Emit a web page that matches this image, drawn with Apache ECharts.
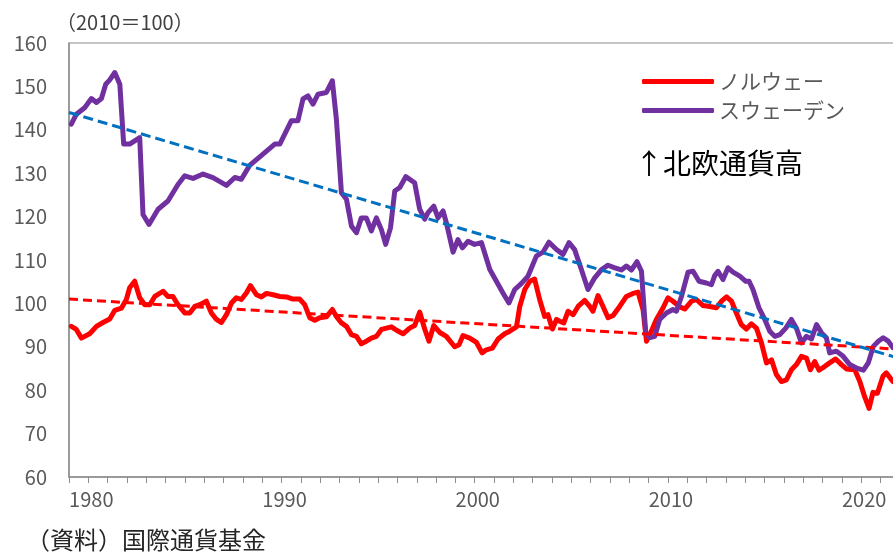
<!DOCTYPE html>
<html><head><meta charset="utf-8">
<script src="https://cdn.jsdelivr.net/npm/echarts@6/dist/echarts.min.js"></script>
<style>html,body{margin:0;padding:0;background:#fff}#c{width:893px;height:556px}</style>
</head><body><div id="c"></div>
<script>
const seriesNames = ['ノルウェー', 'スウェーデン'];
const norway = [
[1979.12,94.7],[1979.38,94.0],[1979.64,92.0],[1980.07,93.0],[1980.42,94.7],[1980.76,95.6],[1981.11,96.4],[1981.37,98.4],[1981.71,98.9],[1981.97,100.9],
[1982.14,103.6],[1982.40,105.1],[1982.66,101.3],[1982.92,99.7],[1983.18,99.7],[1983.44,101.6],[1983.87,102.8],[1984.12,101.6],[1984.38,101.6],[1984.64,99.7],
[1984.99,97.8],[1985.25,97.8],[1985.51,99.3],[1985.77,99.7],[1986.11,100.5],[1986.37,97.8],[1986.63,96.3],[1986.89,95.6],[1987.15,97.4],[1987.41,100.1],
[1987.66,101.3],[1987.92,100.9],[1988.18,102.4],[1988.39,104.1],[1988.70,102.0],[1988.96,101.5],[1989.22,102.3],[1989.56,102.0],[1989.91,101.6],[1990.25,101.5],
[1990.59,101.0],[1990.94,101.0],[1991.20,99.7],[1991.46,96.7],[1991.72,96.1],[1991.98,96.7],[1992.32,96.9],[1992.63,98.6],[1992.84,97.0],[1993.10,95.5],
[1993.36,94.7],[1993.62,92.8],[1993.88,92.4],[1994.13,90.7],[1994.39,91.3],[1994.65,92.0],[1994.91,92.4],[1995.17,94.0],[1995.43,94.3],[1995.69,94.6],
[1995.95,93.8],[1996.29,93.0],[1996.63,94.3],[1996.89,94.9],[1997.15,98.0],[1997.41,94.1],[1997.63,91.3],[1997.88,94.9],[1998.19,93.3],[1998.53,92.4],
[1998.96,90.0],[1999.19,90.5],[1999.39,92.6],[1999.74,92.0],[2000.09,91.0],[2000.38,88.6],[2000.60,89.3],[2000.91,89.7],[2001.21,91.8],[2001.55,93.0],
[2001.81,93.6],[2002.16,94.6],[2002.33,99.3],[2002.59,103.2],[2002.85,105.1],[2003.10,105.6],[2003.36,100.9],[2003.62,97.0],[2003.79,97.4],[2004.02,94.1],
[2004.23,96.3],[2004.40,95.9],[2004.61,95.5],[2004.83,98.2],[2005.09,97.4],[2005.35,99.3],[2005.69,100.7],[2005.95,99.3],[2006.12,98.2],[2006.38,101.8],
[2006.64,99.3],[2006.90,96.7],[2007.16,97.2],[2007.50,99.3],[2007.85,101.6],[2008.19,102.3],[2008.45,102.6],[2008.71,98.6],[2008.89,91.3],[2009.14,93.6],
[2009.40,96.3],[2009.75,99.0],[2010.00,101.3],[2010.26,100.5],[2010.61,99.2],[2010.87,98.7],[2011.22,100.5],[2011.47,100.9],[2011.82,99.5],[2012.16,99.3],
[2012.51,99.0],[2012.77,100.5],[2013.03,101.5],[2013.29,100.5],[2013.54,97.8],[2013.80,95.1],[2014.06,94.1],[2014.32,95.3],[2014.58,94.3],[2014.84,90.9],
[2015.10,86.3],[2015.36,87.0],[2015.61,83.6],[2015.87,82.0],[2016.13,82.4],[2016.39,84.7],[2016.65,85.9],[2016.91,87.8],[2017.17,87.4],[2017.37,84.7],
[2017.60,86.6],[2017.82,84.6],[2018.12,85.5],[2018.37,86.3],[2018.68,87.2],[2018.98,85.9],[2019.24,84.9],[2019.67,84.7],[2019.93,82.0],[2020.18,78.5],
[2020.41,75.8],[2020.61,79.5],[2020.84,79.3],[2021.13,83.2],[2021.30,84.0],[2021.64,82.0]
];
const sweden = [
[1979.12,141.3],[1979.38,143.6],[1979.81,145.1],[1980.16,147.2],[1980.42,146.3],[1980.68,147.2],[1980.90,150.5],[1981.11,151.5],[1981.37,153.2],[1981.63,150.5],
[1981.83,136.7],[1982.14,136.7],[1982.66,138.2],[1982.83,120.5],[1983.14,118.2],[1983.61,121.7],[1984.12,123.6],[1984.64,127.4],[1984.99,129.4],[1985.42,128.8],
[1985.94,129.8],[1986.45,129.0],[1987.15,127.2],[1987.58,129.0],[1987.92,128.6],[1988.35,131.8],[1989.04,134.4],[1989.65,136.7],[1989.91,136.7],[1990.51,142.1],
[1990.85,142.1],[1991.11,147.1],[1991.37,147.8],[1991.63,145.9],[1991.89,148.2],[1992.32,148.6],[1992.63,151.3],[1992.84,142.4],[1993.10,125.5],[1993.36,124.0],
[1993.62,117.8],[1993.88,116.3],[1994.13,119.7],[1994.39,119.7],[1994.65,116.7],[1994.91,119.7],[1995.17,117.0],[1995.39,113.6],[1995.64,117.4],[1995.86,125.9],
[1996.12,126.7],[1996.43,129.2],[1996.89,127.8],[1997.15,121.7],[1997.41,119.4],[1997.58,120.9],[1997.88,122.4],[1998.10,119.7],[1998.36,121.3],[1998.53,118.6],
[1998.88,111.8],[1999.13,114.7],[1999.36,112.8],[1999.65,114.3],[1999.99,113.6],[2000.35,114.0],[2000.78,107.8],[2001.12,105.1],[2001.46,102.4],[2001.77,100.1],
[2002.07,103.2],[2002.42,104.6],[2002.76,106.3],[2003.19,110.9],[2003.53,111.8],[2003.84,114.1],[2004.23,112.4],[2004.57,111.3],[2004.88,114.0],[2005.17,112.4],
[2005.52,107.8],[2005.86,103.2],[2006.21,105.9],[2006.56,107.8],[2006.90,108.8],[2007.25,108.2],[2007.59,107.7],[2007.85,108.6],[2008.11,107.7],[2008.40,109.6],
[2008.63,107.4],[2008.85,93.2],[2009.06,92.1],[2009.32,92.4],[2009.57,96.3],[2009.92,97.8],[2010.26,98.6],[2010.44,98.2],[2010.70,101.6],[2011.04,107.2],
[2011.30,107.4],[2011.61,105.1],[2011.99,104.7],[2012.25,104.3],[2012.42,106.4],[2012.59,107.4],[2012.85,105.5],[2013.11,108.2],[2013.37,107.2],[2013.72,106.3],
[2014.03,105.1],[2014.20,105.1],[2014.40,103.2],[2014.71,99.0],[2015.01,96.3],[2015.27,93.6],[2015.53,92.4],[2015.79,92.8],[2016.10,94.3],[2016.39,96.3],
[2016.65,94.3],[2016.91,90.9],[2017.17,92.4],[2017.43,91.8],[2017.69,95.1],[2017.95,93.2],[2018.20,92.1],[2018.37,88.6],[2018.72,89.0],[2019.07,87.8],
[2019.41,85.9],[2019.76,85.1],[2020.11,84.6],[2020.37,86.3],[2020.63,90.1],[2020.89,91.3],[2021.14,92.1],[2021.40,91.3],[2021.64,89.8]
];
const norwayTrend = [[1979, 101.0], [2021.7, 89.5]];
const swedenTrend = [[1979, 144.0], [2021.7, 87.7]];
const xMin = 1979, xMax = 2021.7;
const yMin = 60, yMax = 160, yStep = 10;
const labelYears = [1980, 1990, 2000, 2010, 2020];

const FONT = 'Noto Sans CJK JP';
const chart = echarts.init(document.getElementById('c'), null, {renderer: 'canvas'});
chart.setOption({
  animation: false,
  backgroundColor: '#ffffff',
  grid: {left: 69, right: -1, top: 43, bottom: 79, show: true, borderColor: '#8c8c8c', borderWidth: 1,
         containLabel: false, outerBoundsMode: 'none'},
  xAxis: {
    type: 'value', min: xMin, max: xMax, interval: 1,
    axisLine: {show: true, onZero: false, lineStyle: {color: '#8c8c8c', width: 1.5}},
    axisTick: {show: true, length: 6, lineStyle: {color: '#8c8c8c', width: 1}},
    splitLine: {show: false},
    axisLabel: {
      margin: 12, fontFamily: FONT, fontSize: 20, color: '#595959', padding: [0, 0, 0, 6],
      showMinLabel: true, showMaxLabel: true,
      formatter: v => labelYears.includes(Math.round(v)) && Math.abs(v - Math.round(v)) < 1e-6 ? String(Math.round(v)) : ''
    }
  },
  yAxis: {
    type: 'value', min: yMin, max: yMax, interval: yStep,
    axisLine: {show: true, lineStyle: {color: '#8c8c8c', width: 1.5}},
    axisTick: {show: false},
    splitLine: {show: false},
    axisLabel: {margin: 22, fontFamily: FONT, fontSize: 20, color: '#595959'}
  },
  legend: {
    show: true,
    data: seriesNames, orient: 'vertical', left: 637, top: 66, itemWidth: 72, itemHeight: 5, itemGap: 8,
    icon: 'roundRect',
    textStyle: {fontFamily: FONT, fontSize: 21, color: '#595959'}
  },
  graphic: [
    {type: 'text', left: 56, top: 12, style: {text: '（2010＝100）', fontFamily: FONT, fontSize: 20, fill: '#404040'}},
    {type: 'text', left: 635, top: 149, style: {text: '↑北欧通貨高', fontFamily: FONT, fontSize: 28, fill: '#000000'}},
    {type: 'text', left: 26, top: 528, style: {text: '（資料）国際通貨基金', fontFamily: FONT, fontSize: 24, fill: '#262626'}}
  ],
  series: [
    {name: seriesNames[0], type: 'line', data: norway, showSymbol: false, symbol: 'none', z: 2,
     lineStyle: {color: '#ff0000', width: 5, join: 'round', cap: 'round'}, itemStyle: {color: '#ff0000'}},
    {name: seriesNames[1], type: 'line', data: sweden, showSymbol: false, symbol: 'none', z: 3,
     lineStyle: {color: '#7030a0', width: 5, join: 'round', cap: 'round'}, itemStyle: {color: '#7030a0'}},
    {name: 'norwayTrend', type: 'line', data: norwayTrend, showSymbol: false, symbol: 'none', z: 4,
     lineStyle: {color: '#ff0000', width: 3, type: [9, 5]}},
    {name: 'swedenTrend', type: 'line', data: swedenTrend, showSymbol: false, symbol: 'none', z: 4,
     lineStyle: {color: '#0070c0', width: 3, type: [10, 5]}}
  ]
});
</script></body></html>
